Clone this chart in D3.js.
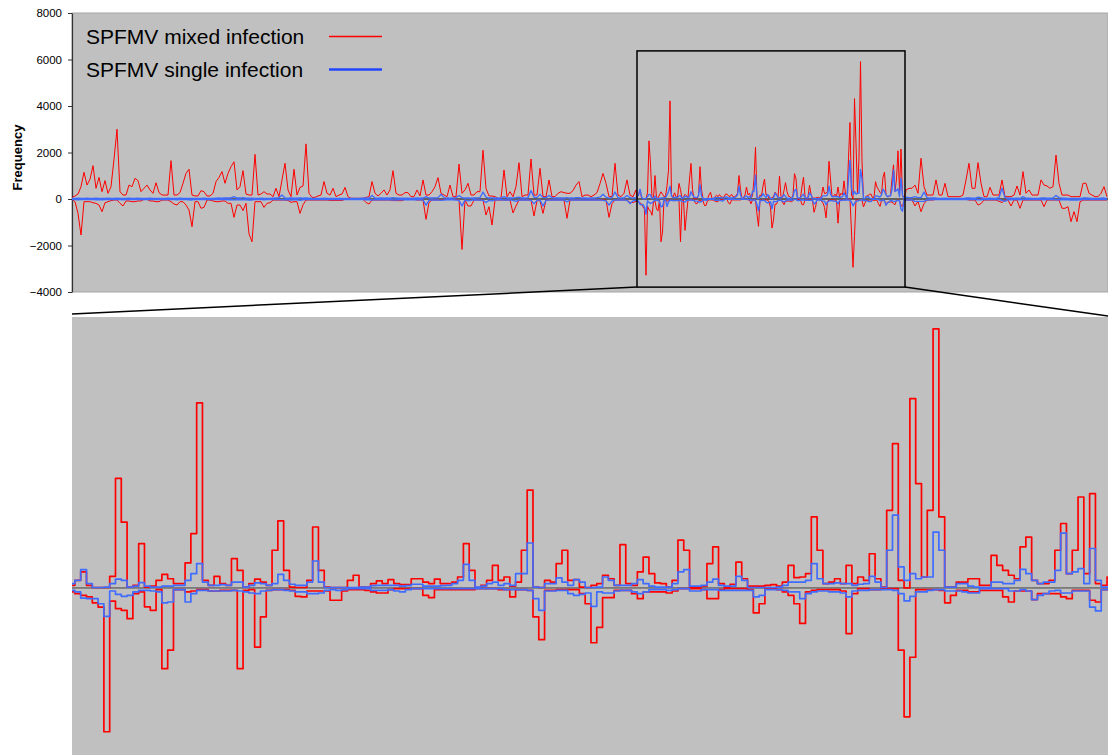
<!DOCTYPE html>
<html>
<head>
<meta charset="utf-8">
<title>SPFMV siRNA frequency</title>
<script src="https://d3js.org/d3.v7.min.js"></script>
<style>
  body { margin: 0; background: #fff; }
  svg { display: block; font-family: Arial, "Liberation Sans", sans-serif; }
</style>
</head>
<body>
<svg id="chart" width="1108" height="755"></svg>
<script>
// genome positions (nt) of the three sampled stretches
const leftStart = 0, leftStep = 30;
const zoomStart = 5650, zoomStep = 15;
const rightStart = 8340, rightStep = 30;
const genomeLength = 10360;
const zoomWindow = [5650, 8330];
const zoomValueWindow = [-3790, 6370];

// SPFMV mixed infection, sense (+) and antisense (-)
const mixedSenseLeft = [
  70,130,215,530,1150,600,850,1435,460,930, 315,790,245,530,1710,3000,315,170,170,600,
  530,890,790,315,460,600,390,245,700,275, 170,170,170,1650,170,170,275,675,1100,1280,
  170,130,130,360,315,130,130,245,745,930, 1180,675,1100,1390,1600,390,530,1220,215,170,
  170,1920,170,215,315,215,215,
  100,460,100,820,1535,390,100,1280,170,500, 560,2370,245,70,70,130,170,750,245,170,
  460,100,170,215,500,100,30,30,30,30,
  30,70,100,750,245,130,245,390,170,390, 1220,245,170,170,275,275,100,100,390,130,
  820,170,170,315,530,920,245,170,100,600, 100,100,1500,245,390,675,170,170,315,315,
  2100,460,130,130,100,30,30,1250,100,315, 100,530,1560,100,170,170,1720,170,170,1320,
  100,100,820,100,100,245,315,275,245,245, 360,600,750,100,170,170,100,170,275,660,
  1100,675,100,100,1535,170,100,245,820,170, 100,390
];
const mixedAntiLeft = [
  -15,-115,-620,-1550,-115,-115,-115,-160,-185,-260, -545,-160,-115,-70,-45,-45,-185,-300,-85,-85,
  -115,-115,-85,-85,-15,-15,-85,-85,-115,-115, -45,-45,-45,-115,-215,-260,-115,-115,-260,-475,
  -1190,-115,-115,-400,-360,-45,-45,-85,-115,-115, -85,-85,-185,-185,-790,-260,-260,-500,-185,-1500,
  -1840,-115,-115,-115,-360,-185,-160,
  -45,-45,-45,-45,-45,-60,-145,-115,-115,-620, -250,-45,-45,-45,-45,-45,-45,-45,-45,-60,
  -60,-60,-60,-60,-15,-15,-15,-15,-15,-15,
  -15,-150,-215,-45,-45,-45,-45,-45,-45,-45, -70,-70,-70,-70,-15,-15,-15,-15,-45,-45,
  -45,-875,-150,-45,-45,-45,-45,-15,-15,-15, -15,-15,-45,-2170,-45,-300,-300,-45,-45,-45,
  -45,-690,-330,-1120,-45,-45,-45,-45,-45,-45, -600,-300,-45,-45,-45,-45,-45,-730,-70,-70,
  -620,-45,-45,-45,-45,-45,-45,-45,-830,-45, -45,-45,-45,-45,-45,-45,-45,-45,-45,-45,
  -45,-45,-790,-200,-45,-45,-45,-45,-45,-150, -150,-100
];
const mixedSenseZoom = [
  60,175,365,60,10,10,10,265,2500,1500, 20,60,1010,20,40,175,310,210,100,100,
  570,1240,4220,175,60,265,100,60,670,400, 20,100,200,135,60,860,1530,400,20,10,
  10,175,1390,400,20,10,
  10,10,175,290,20,20,100,160,100,190, 100,75,75,210,210,135,100,200,100,100,
  135,250,1010,400,10,60,175,515,175,250, 40,135,860,2230,20,10,175,135,555,860,
  175,190,20,10,
  60,100,290,210,60,990,100,60,365,705, 325,115,100,20,175,1090,860,20,20,40,
  555,935,100,20,85,590,210,40,40,40, 60,75,40,135,515,235,250,325,1620,860,
  100,135,210,100,515,
  100,250,175,780,210,20,1770,3290,175,0, 4320,2380,250,1770,5910,1620,20,20,135,135,
  210,210,60,60,745,515,400,290,210,935, 1160,175,100,100,175,860,1470,325,860,2075,
  325,2150,100,60,250
];
const mixedAntiZoom = [
  -90,-130,-170,-205,-340,-435,-3280,-300,-470,-510, -700,-130,-90,-430,-510,-40,-1840,-1420,-40,-40,
  -90,-70,-40,-40,-70,-70,-55,-55,-55,-1840, -55,-40,-1350,-660,-55,-40,-40,-40,-55,-190,
  -205,-70,-70,-70,-70,-280,
  -280,-70,-40,-40,-40,-55,-90,-115,-115,-40, -15,-15,-15,-15,-15,-170,-220,-40,-40,-40,
  -40,-40,-40,-40,-15,-15,-15,-15,-40,-40, -205,-40,-40,-55,-660,-1180,-55,-55,-40,-40,
  -40,-40,-130,-360,
  -1250,-900,-220,-220,-55,-55,-55,-130,-245,-90, -90,-90,-90,-115,-70,-15,-15,-15,-15,-40,
  -245,-245,-40,-15,-15,-15,-15,-40,-570,-360, -15,-15,-40,-90,-170,-360,-810,-90,-55,-40,
  -40,-40,-40,-70,-1040,
  -130,-15,-15,-40,-40,-15,-15,-15,-1420,-2940, -1580,-40,-40,-40,-40,-55,-340,-170,-55,-55,
  -90,-90,-55,-55,-55,-55,-205,-320,-70,-70, -70,-265,-130,-130,-130,-130,-205,-245,-55,-55,
  -55,-280,-320,-40,-40
];
const mixedSenseRight = [
  390,460,460,600,245,1750,530,170,170,170, 820,170,170,675,100,100,100,100,100,170,
  820,1535,460,460,1565,675,100,100,500,170, 170,170,820,100,100,100,170,560,170,1180,
  245,390,170,170,170,820,600,560,460,530, 1890,675,170,170,170,100,100,100,100,675,
  675,245,170,100,100,245,530,100
];
const mixedAntiRight = [
  -45,-45,-45,-300,-100,-545,-200,-45,-45,-45, -15,-15,-15,-15,-15,-15,-15,-15,-15,-15,
  -15,-45,-45,-45,-260,-200,-45,-45,-45,-45, -45,-100,-150,-45,-45,-300,-45,-45,-400,-45,
  -45,-45,-45,-45,-45,-45,-330,-45,-45,-45, -45,-45,-400,-400,-330,-975,-545,-975,-120,-45,
  -45,-45,-45,-45,-45,-45,-45,-45
];

// SPFMV single infection, sense (+) and antisense (-)
const singleSenseLeft = [
  20,20,30,20,20,30,20,20,30,20, 20,20,30,20,20,40,20,20,20,30,
  20,20,30,20,20,20,30,20,20,20, 20,20,30,20,20,20,30,20,20,20,
  20,20,20,20,30,20,20,20,30,40, 30,40,40,50,100,40,40,60,30,30,
  30,20,20,30,20,20,20,30,40,60, 170,40,30,40,30,30,40,30,40,30,
  20,20,20,20,30,20,20,20,20,20, 20,20,20,20,20,20,20,30,40,30,
  150,40,30,40,30,40,30,60,40,30, 30,30,30,20,30,40,30,40,100,40,
  40,50,60,200,60,40,30,40,60,150, 60,40,40,30,40,50,60,300,80,40,
  40,40,30,40,100,40,40,40,60,80, 40,40,60,360,80,60,200,60,60,150,
  60,40,40,40,40,60,40,40,60,60, 40,40,30,40,40,60,80,200,80,40,
  60,300,60,40,40,150,60,40,40
];
const singleAntiLeft = [
  -20,-20,-30,-20,-20,-20,-20,-20,-30,-20, -40,-20,-20,-20,-20,-20,-20,-30,-20,-20,
  -20,-20,-20,-20,-20,-20,-20,-20,-20,-20, -20,-20,-20,-20,-20,-30,-20,-20,-20,-30,
  -40,-20,-20,-20,-20,-20,-20,-20,-20,-20, -20,-20,-30,-20,-40,-20,-30,-30,-30,-40,
  -40,-20,-20,-20,-30,-20,-20,-20,-20,-20, -30,-20,-30,-40,-30,-30,-60,-30,-20,-20,
  -20,-20,-20,-20,-20,-20,-20,-20,-20,-20, -20,-20,-20,-20,-20,-20,-20,-20,-30,-30,
  -40,-30,-30,-30,-30,-30,-30,-40,-40,-30, -30,-30,-30,-20,-30,-30,-30,-40,-260,-60,
  -40,-40,-40,-60,-40,-30,-30,-30,-40,-60, -300,-40,-80,-60,-30,-40,-40,-60,-150,-60,
  -80,-40,-30,-30,-40,-40,-40,-60,-100,-40, -40,-40,-40,-60,-200,-60,-40,-300,-60,-40,
  -40,-40,-40,-40,-40,-120,-40,-40,-40,-40, -40,-40,-40,-40,-40,-40,-40,-60,-80,-260,
  -80,-40,-40,-40,-40,-60,-200,-80,-60
];
const singleSenseZoom = [
  100,175,420,100,10,10,20,100,200,175, 20,40,120,40,20,20,40,40,60,60,
  175,325,555,135,60,60,75,60,135,135, 20,60,115,100,60,100,310,175,85,60,
  60,135,615,135,10,10,
  10,10,10,10,20,20,55,60,60,60, 60,40,55,85,85,40,40,40,55,60,
  100,175,540,175,20,40,100,135,60,100, 60,325,325,1025,20,10,100,100,230,135,
  60,190,135,10,
  10,20,250,175,60,60,60,100,190,100, 40,20,20,20,100,365,420,40,40,60,
  135,200,60,40,40,265,175,10,10,10, 10,10,20,60,135,135,135,175,555,210,
  100,100,115,100,100,
  60,85,100,265,135,10,860,1660,480,175, 325,210,250,250,1275,860,20,20,100,100,
  40,20,10,10,135,135,100,100,175,425, 325,175,100,135,135,400,1250,325,365,440,
  100,900,175,20,20
];
const singleAntiZoom = [
  -55,-90,-230,-245,-245,-360,-650,-70,-145,-190, -170,-90,-55,-55,-70,-90,-340,-320,-40,-40,
  -320,-130,-55,-55,-70,-70,-70,-70,-55,-70, -90,-115,-130,-70,-55,-40,-40,-55,-70,-90,
  -90,-130,-130,-115,-55,-40,
  -55,-40,-15,-15,-15,-15,-55,-55,-55,-40, -70,-90,-40,-15,-15,-15,-15,-15,-15,-15,
  -15,-15,-15,-15,-15,-15,-15,-15,-15,-40, -40,-40,-40,-55,-245,-510,-70,-70,-55,-55,
  -130,-170,-145,-115,
  -420,-90,-115,-115,-70,-55,-55,-90,-130,-90, -40,-40,-40,-55,-40,-15,-15,-70,-70,-40,
  -40,-40,-55,-55,-55,-55,-55,-55,-205,-170, -40,-40,-40,-55,-90,-90,-245,-130,-90,-70,
  -70,-90,-90,-115,-205,
  -70,-55,-55,-40,-40,-40,-40,-55,-130,-295, -190,-90,-90,-55,-40,-40,-70,-70,-70,-90,
  -115,-115,-15,-15,-15,-15,-15,-70,-70,-40, -70,-265,-170,-130,-70,-55,-115,-115,-70,-70,
  -70,-435,-525,-40,-40
];
const singleSenseRight = [
  80,60,60,100,60,60,300,60,40,40, 40,20,20,40,20,20,20,20,20,20,
  40,40,30,30,80,60,20,20,30,20, 30,60,460,60,30,30,20,30,20,100,
  30,30,20,20,20,40,40,30,30,40, 150,60,30,30,20,20,20,20,20,40,
  40,30,20,20,20,30,40,20
];
const singleAntiRight = [
  -40,-40,-40,-100,-100,-100,-100,-40,-30,-20, -20,-20,-20,-20,-20,-20,-20,-20,-20,-20,
  -20,-20,-20,-20,-30,-30,-20,-20,-20,-20, -20,-20,-60,-100,-30,-30,-20,-20,-30,-20,
  -20,-20,-20,-20,-20,-20,-30,-20,-20,-20, -30,-30,-30,-30,-30,-40,-40,-40,-30,-20,
  -20,-20,-20,-20,-20,-20,-20,-20
];

const yTicks = [-4000, -2000, 0, 2000, 4000, 6000, 8000];
const legendItems = [
  {label: "SPFMV mixed infection", color: "#ff0000", width: 1.5},
  {label: "SPFMV single infection", color: "#2246ff", width: 2.5}
];

const red = "#ff0000";
const blue = "#3f6cff";

function buildSeries(left, zoom, right) {
  const pts = [];
  left.forEach((v, i) => pts.push({pos: leftStart + i * leftStep, v: v}));
  zoom.forEach((v, i) => pts.push({pos: zoomStart + i * zoomStep, v: v}));
  right.forEach((v, i) => pts.push({pos: rightStart + i * rightStep, v: v}));
  return pts;
}

const series = [
  {color: red, data: buildSeries(mixedSenseLeft, mixedSenseZoom, mixedSenseRight)},
  {color: red, data: buildSeries(mixedAntiLeft, mixedAntiZoom, mixedAntiRight)},
  {color: blue, data: buildSeries(singleSenseLeft, singleSenseZoom, singleSenseRight)},
  {color: blue, data: buildSeries(singleAntiLeft, singleAntiZoom, singleAntiRight)}
];

const svg = d3.select("#chart");

// ---- overview panel ----
const topBox = {left: 72, right: 1108, top: 13, bottom: 292};
const xTop = d3.scaleLinear().domain([0, genomeLength]).range([topBox.left, topBox.right]);
const yTop = d3.scaleLinear().domain([-4000, 8000]).range([topBox.bottom, topBox.top]);

svg.append("rect")
  .attr("x", topBox.left).attr("y", topBox.top)
  .attr("width", topBox.right - topBox.left).attr("height", topBox.bottom - topBox.top)
  .attr("fill", "#c0c0c0").attr("stroke", "#a6a6a6").attr("stroke-width", 1);

const yAxis = d3.axisLeft(yTop).tickValues(yTicks).tickFormat(d3.format("d"))
  .tickSize(4).tickSizeOuter(0).tickPadding(6);
const gAxis = svg.append("g")
  .attr("transform", `translate(${topBox.left},0)`)
  .call(yAxis);
gAxis.select(".domain").attr("stroke", "#333").attr("stroke-width", 1.2);
gAxis.selectAll(".tick line").attr("stroke", "#333");
gAxis.selectAll(".tick text")
  .attr("font-size", "11.5px").attr("font-family", "Arial, 'Liberation Sans', sans-serif")
  .attr("fill", "#000");

svg.append("text")
  .attr("transform", `translate(22,${(topBox.top + topBox.bottom) / 2 + 5}) rotate(-90)`)
  .attr("text-anchor", "middle")
  .attr("font-size", "13px").attr("font-weight", "bold")
  .text("Frequency");

svg.append("line")
  .attr("x1", topBox.left).attr("x2", topBox.right)
  .attr("y1", yTop(0)).attr("y2", yTop(0))
  .attr("stroke", "#000").attr("stroke-width", 1);

const lineTop = d3.line().x(d => xTop(d.pos)).y(d => yTop(d.v));
svg.append("g").selectAll("path")
  .data(series).enter().append("path")
  .attr("d", d => lineTop(d.data))
  .attr("fill", "none")
  .attr("stroke", d => d.color)
  .attr("stroke-width", d => d.color === red ? 1 : 1.4)
  .attr("stroke-linejoin", "round");

// legend
const legend = svg.append("g");
legendItems.forEach((item, i) => {
  const y = 36.5 + i * 33;
  legend.append("text")
    .attr("x", 86).attr("y", y + 7)
    .attr("font-size", "21px").attr("fill", "#000")
    .text(item.label);
  legend.append("line")
    .attr("x1", 329).attr("x2", 382).attr("y1", y).attr("y2", y)
    .attr("stroke", item.color).attr("stroke-width", item.width);
});

// zoom window frame
const zx0 = xTop(zoomWindow[0]), zx1 = xTop(zoomWindow[1]);
const zy0 = yTop(zoomValueWindow[1]), zy1 = yTop(zoomValueWindow[0]);
svg.append("rect")
  .attr("x", zx0).attr("y", zy0)
  .attr("width", zx1 - zx0).attr("height", zy1 - zy0)
  .attr("fill", "none").attr("stroke", "#000").attr("stroke-width", 1.5);

// ---- zoomed panel ----
const botBox = {left: 72, right: 1108, top: 317, bottom: 755};
svg.append("line")
  .attr("x1", zx0).attr("y1", zy1).attr("x2", botBox.left).attr("y2", botBox.top - 3)
  .attr("stroke", "#000").attr("stroke-width", 1.5);
svg.append("line")
  .attr("x1", zx1).attr("y1", zy1).attr("x2", botBox.right).attr("y2", botBox.top - 1)
  .attr("stroke", "#000").attr("stroke-width", 1.5);

const xZoom = d3.scaleLinear().domain(zoomWindow).range([botBox.left, botBox.right]);
const yZoom = d3.scaleLinear().domain([-3810, 6180]).range([botBox.bottom, botBox.top]);

svg.append("defs").append("clipPath").attr("id", "zoomClip")
  .append("rect")
  .attr("x", botBox.left).attr("y", botBox.top)
  .attr("width", botBox.right - botBox.left).attr("height", botBox.bottom - botBox.top);

svg.append("rect")
  .attr("x", botBox.left).attr("y", botBox.top)
  .attr("width", botBox.right - botBox.left).attr("height", botBox.bottom - botBox.top)
  .attr("fill", "#c0c0c0");

const gZoom = svg.append("g").attr("clip-path", "url(#zoomClip)");
gZoom.append("line")
  .attr("x1", botBox.left).attr("x2", botBox.right)
  .attr("y1", yZoom(0)).attr("y2", yZoom(0))
  .attr("stroke", "#404040").attr("stroke-width", 1);

const lineZoom = d3.line().curve(d3.curveStep).x(d => xZoom(d.pos)).y(d => yZoom(d.v));
gZoom.selectAll("path.z")
  .data(series).enter().append("path")
  .attr("class", "z")
  .attr("d", d => lineZoom(d.data))
  .attr("fill", "none")
  .attr("stroke", d => d.color)
  .attr("stroke-width", 1.7)
  .attr("stroke-linejoin", "round");
</script>
</body>
</html>
